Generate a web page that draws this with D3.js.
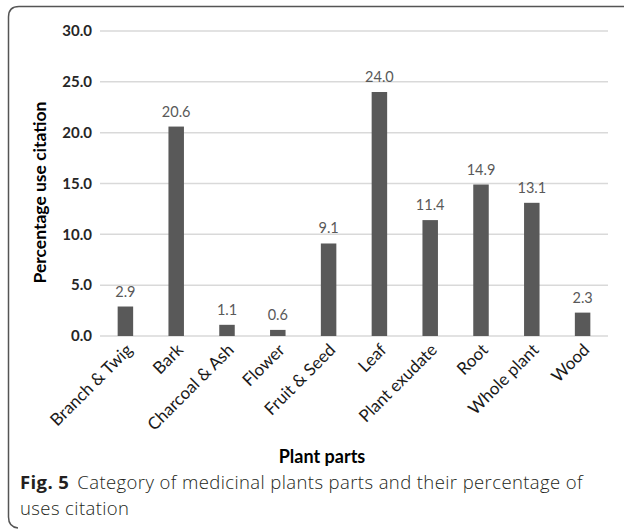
<!DOCTYPE html>
<html>
<head>
<meta charset="utf-8">
<script src="https://cdn.jsdelivr.net/npm/d3@7/dist/d3.min.js"></script>
<style>
  html, body { margin: 0; padding: 0; background: #fff; }
  svg { display: block; }
</style>
</head>
<body>
<svg id="chart" width="624" height="529"></svg>
<script>
// Plant parts and their share of use citations (%)
const categories = ["Branch & Twig", "Bark", "Charcoal & Ash", "Flower", "Fruit & Seed",
                    "Leaf", "Plant exudate", "Root", "Whole plant", "Wood"];
const values = [2.9, 20.6, 1.1, 0.6, 9.1, 24.0, 11.4, 14.9, 13.1, 2.3];
const yTicks = [0, 5, 10, 15, 20, 25, 30];

const svg = d3.select("#chart");
const chartFont = "Lato, 'Open Sans', sans-serif";
const captionFont = "'Open Sans', 'Noto Sans', sans-serif";

// outer frame: left and top edges with rounded corners
svg.append("path")
  .attr("d", "M630,6.5 H19 Q8.5,6.5 8.5,17 V517 Q8.5,527 18,528")
  .attr("fill", "none")
  .attr("stroke", "#555")
  .attr("stroke-width", 1.5);

const plot = { left: 100, right: 608, top: 31, bottom: 336 };

const x = d3.scaleBand()
  .domain(categories)
  .range([plot.left, plot.right])
  .paddingInner(0.695)
  .paddingOuter(0.3475);

const y = d3.scaleLinear()
  .domain([0, 30])
  .range([plot.bottom, plot.top]);

// horizontal gridlines
svg.append("g")
  .selectAll("line")
  .data(yTicks)
  .join("line")
  .attr("x1", plot.left)
  .attr("x2", plot.right)
  .attr("y1", d => y(d))
  .attr("y2", d => y(d))
  .attr("stroke", "#d9d9d9")
  .attr("stroke-width", 1.5);

// y axis labels
const yAxis = d3.axisLeft(y).tickValues(yTicks).tickFormat(d3.format(".1f")).tickSize(0).tickPadding(8);
const yg = svg.append("g").attr("transform", `translate(${plot.left},0)`).call(yAxis);
yg.select(".domain").remove();
yg.selectAll("text")
  .attr("font-family", chartFont)
  .attr("font-size", 15)
  .attr("font-weight", 700)
  .attr("fill", "#262626");

// bars
svg.append("g")
  .selectAll("rect")
  .data(values)
  .join("rect")
  .attr("x", (d, i) => x(categories[i]))
  .attr("width", x.bandwidth())
  .attr("y", d => y(d))
  .attr("height", d => y(0) - y(d))
  .attr("fill", "#595959");

// value labels
svg.append("g")
  .selectAll("text")
  .data(values)
  .join("text")
  .attr("x", (d, i) => x(categories[i]) + x.bandwidth() / 2)
  .attr("y", d => y(d) - 10)
  .attr("text-anchor", "middle")
  .attr("font-family", chartFont)
  .attr("font-size", 14.5)
  .attr("fill", "#595959")
  .text(d => d3.format(".1f")(d));

// category labels, rotated
svg.append("g")
  .selectAll("text")
  .data(categories)
  .join("text")
  .attr("transform", d => `translate(${x(d) + x.bandwidth() / 2 + 8},${plot.bottom + 15}) rotate(-45)`)
  .attr("text-anchor", "end")
  .attr("font-family", chartFont)
  .attr("font-size", 17)
  .attr("font-weight", 400)
  .attr("fill", "#1a1a1a")
  .text(d => d);

// axis titles
svg.append("text")
  .attr("transform", `translate(46,192.5) rotate(-90)`)
  .attr("text-anchor", "middle")
  .attr("font-family", chartFont)
  .attr("font-size", 17.5)
  .attr("font-weight", 700)
  .attr("fill", "#000")
  .text("Percentage use citation");

svg.append("text")
  .attr("x", 322)
  .attr("y", 463)
  .attr("text-anchor", "middle")
  .attr("font-family", chartFont)
  .attr("font-size", 18)
  .attr("font-weight", 700)
  .attr("fill", "#000")
  .text("Plant parts");

// figure caption
const cap1 = svg.append("text")
  .attr("x", 20)
  .attr("y", 489)
  .attr("font-family", captionFont)
  .attr("font-size", 18.5)
  .attr("font-weight", 300)
  .attr("letter-spacing", 0.4)
  .attr("fill", "#231f20");
cap1.append("tspan").attr("font-weight", 700).text("Fig. 5");
cap1.append("tspan").attr("dx", 8).text("Category of medicinal plants parts and their percentage of");

svg.append("text")
  .attr("x", 20)
  .attr("y", 515)
  .attr("font-family", captionFont)
  .attr("font-size", 18.5)
  .attr("font-weight", 300)
  .attr("letter-spacing", 0.4)
  .attr("fill", "#231f20")
  .text("uses citation");
</script>
</body>
</html>
